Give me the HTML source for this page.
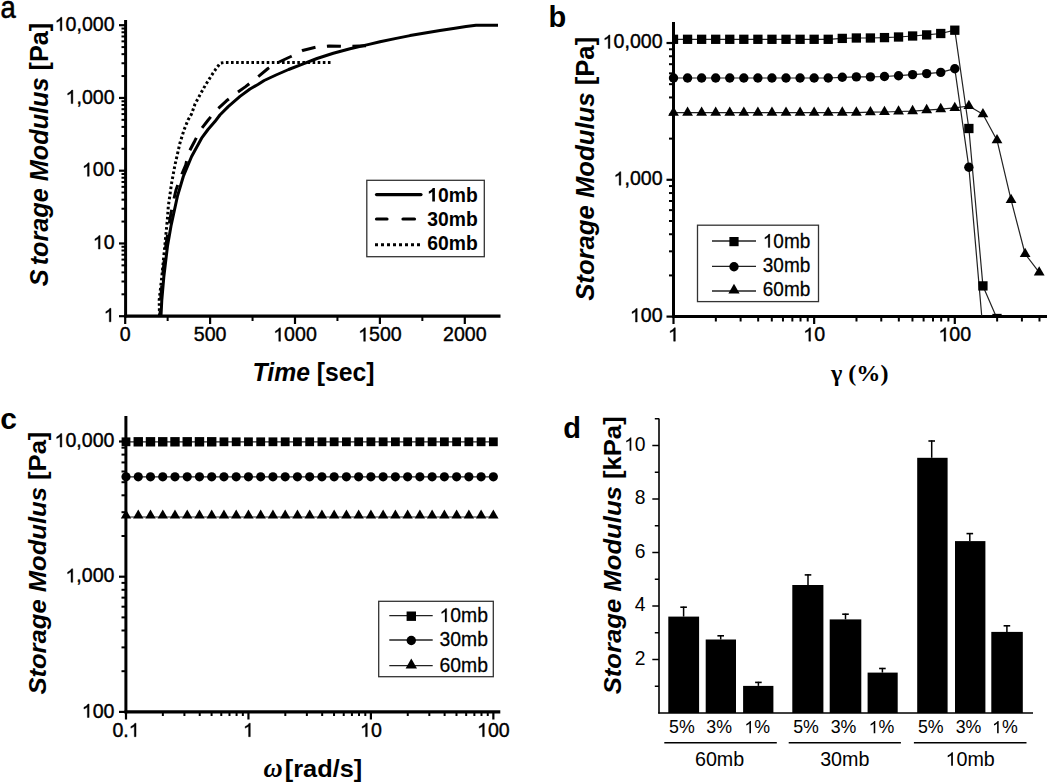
<!DOCTYPE html>
<html><head><meta charset="utf-8"><style>
html,body{margin:0;padding:0;background:#fff;}
body{width:1050px;height:782px;overflow:hidden;}
svg{display:block;}
</style></head><body>
<svg width="1050" height="782" viewBox="0 0 1050 782">
<rect width="1050" height="782" fill="#fff"/>
<text transform="translate(0.6,17.5) scale(0.9,1)" font-family='"Liberation Sans", sans-serif' font-size="30.5" stroke="#000" stroke-width="0.6">a</text>
<line x1="119.00" y1="316.20" x2="125.60" y2="316.20" stroke="#000" stroke-width="2.2" />
<line x1="121.50" y1="294.30" x2="125.60" y2="294.30" stroke="#000" stroke-width="2" />
<line x1="121.50" y1="281.49" x2="125.60" y2="281.49" stroke="#000" stroke-width="2" />
<line x1="121.50" y1="272.40" x2="125.60" y2="272.40" stroke="#000" stroke-width="2" />
<line x1="121.50" y1="265.35" x2="125.60" y2="265.35" stroke="#000" stroke-width="2" />
<line x1="121.50" y1="259.59" x2="125.60" y2="259.59" stroke="#000" stroke-width="2" />
<line x1="121.50" y1="254.72" x2="125.60" y2="254.72" stroke="#000" stroke-width="2" />
<line x1="121.50" y1="250.50" x2="125.60" y2="250.50" stroke="#000" stroke-width="2" />
<line x1="121.50" y1="246.78" x2="125.60" y2="246.78" stroke="#000" stroke-width="2" />
<line x1="119.00" y1="243.45" x2="125.60" y2="243.45" stroke="#000" stroke-width="2.2" />
<line x1="121.50" y1="221.55" x2="125.60" y2="221.55" stroke="#000" stroke-width="2" />
<line x1="121.50" y1="208.74" x2="125.60" y2="208.74" stroke="#000" stroke-width="2" />
<line x1="121.50" y1="199.65" x2="125.60" y2="199.65" stroke="#000" stroke-width="2" />
<line x1="121.50" y1="192.60" x2="125.60" y2="192.60" stroke="#000" stroke-width="2" />
<line x1="121.50" y1="186.84" x2="125.60" y2="186.84" stroke="#000" stroke-width="2" />
<line x1="121.50" y1="181.97" x2="125.60" y2="181.97" stroke="#000" stroke-width="2" />
<line x1="121.50" y1="177.75" x2="125.60" y2="177.75" stroke="#000" stroke-width="2" />
<line x1="121.50" y1="174.03" x2="125.60" y2="174.03" stroke="#000" stroke-width="2" />
<line x1="119.00" y1="170.70" x2="125.60" y2="170.70" stroke="#000" stroke-width="2.2" />
<line x1="121.50" y1="148.80" x2="125.60" y2="148.80" stroke="#000" stroke-width="2" />
<line x1="121.50" y1="135.99" x2="125.60" y2="135.99" stroke="#000" stroke-width="2" />
<line x1="121.50" y1="126.90" x2="125.60" y2="126.90" stroke="#000" stroke-width="2" />
<line x1="121.50" y1="119.85" x2="125.60" y2="119.85" stroke="#000" stroke-width="2" />
<line x1="121.50" y1="114.09" x2="125.60" y2="114.09" stroke="#000" stroke-width="2" />
<line x1="121.50" y1="109.22" x2="125.60" y2="109.22" stroke="#000" stroke-width="2" />
<line x1="121.50" y1="105.00" x2="125.60" y2="105.00" stroke="#000" stroke-width="2" />
<line x1="121.50" y1="101.28" x2="125.60" y2="101.28" stroke="#000" stroke-width="2" />
<line x1="119.00" y1="97.95" x2="125.60" y2="97.95" stroke="#000" stroke-width="2.2" />
<line x1="121.50" y1="76.05" x2="125.60" y2="76.05" stroke="#000" stroke-width="2" />
<line x1="121.50" y1="63.24" x2="125.60" y2="63.24" stroke="#000" stroke-width="2" />
<line x1="121.50" y1="54.15" x2="125.60" y2="54.15" stroke="#000" stroke-width="2" />
<line x1="121.50" y1="47.10" x2="125.60" y2="47.10" stroke="#000" stroke-width="2" />
<line x1="121.50" y1="41.34" x2="125.60" y2="41.34" stroke="#000" stroke-width="2" />
<line x1="121.50" y1="36.47" x2="125.60" y2="36.47" stroke="#000" stroke-width="2" />
<line x1="121.50" y1="32.25" x2="125.60" y2="32.25" stroke="#000" stroke-width="2" />
<line x1="121.50" y1="28.53" x2="125.60" y2="28.53" stroke="#000" stroke-width="2" />
<line x1="119.00" y1="25.20" x2="125.60" y2="25.20" stroke="#000" stroke-width="2.2" />
<g transform="translate(103.70,321.80) scale(1.0000,1)"><path d="M763,0 L583,0 L583,1102 Q518,1043 465,1013 Q412,983 358,953 Q305,923 223,894 L223,1061 Q371,1128 487,1227 Q604,1325 647,1409 L763,1409 Z" transform="translate(0.00,0) scale(0.00957,-0.00957)" fill="#000" stroke="#000" stroke-width="41.8"/></g>
<g transform="translate(92.80,249.05) scale(1.0000,1)"><text x="10.90" y="0" font-family='"Liberation Sans", sans-serif' font-size="19.6" font-weight="normal" stroke="#000" stroke-width="0.4">0</text><path d="M763,0 L583,0 L583,1102 Q518,1043 465,1013 Q412,983 358,953 Q305,923 223,894 L223,1061 Q371,1128 487,1227 Q604,1325 647,1409 L763,1409 Z" transform="translate(0.00,0) scale(0.00957,-0.00957)" fill="#000" stroke="#000" stroke-width="41.8"/></g>
<g transform="translate(81.90,176.30) scale(1.0000,1)"><text x="10.90 21.80" y="0" font-family='"Liberation Sans", sans-serif' font-size="19.6" font-weight="normal" stroke="#000" stroke-width="0.4">00</text><path d="M763,0 L583,0 L583,1102 Q518,1043 465,1013 Q412,983 358,953 Q305,923 223,894 L223,1061 Q371,1128 487,1227 Q604,1325 647,1409 L763,1409 Z" transform="translate(0.00,0) scale(0.00957,-0.00957)" fill="#000" stroke="#000" stroke-width="41.8"/></g>
<g transform="translate(65.55,103.55) scale(1.0000,1)"><text x="10.90 16.35 27.25 38.15" y="0" font-family='"Liberation Sans", sans-serif' font-size="19.6" font-weight="normal" stroke="#000" stroke-width="0.4">,000</text><path d="M763,0 L583,0 L583,1102 Q518,1043 465,1013 Q412,983 358,953 Q305,923 223,894 L223,1061 Q371,1128 487,1227 Q604,1325 647,1409 L763,1409 Z" transform="translate(0.00,0) scale(0.00957,-0.00957)" fill="#000" stroke="#000" stroke-width="41.8"/></g>
<g transform="translate(54.65,30.80) scale(1.0000,1)"><text x="10.90 21.80 27.25 38.15 49.05" y="0" font-family='"Liberation Sans", sans-serif' font-size="19.6" font-weight="normal" stroke="#000" stroke-width="0.4">0,000</text><path d="M763,0 L583,0 L583,1102 Q518,1043 465,1013 Q412,983 358,953 Q305,923 223,894 L223,1061 Q371,1128 487,1227 Q604,1325 647,1409 L763,1409 Z" transform="translate(0.00,0) scale(0.00957,-0.00957)" fill="#000" stroke="#000" stroke-width="41.8"/></g>
<line x1="125.20" y1="316.20" x2="125.20" y2="324.00" stroke="#000" stroke-width="2.2" />
<g transform="translate(119.75,341.30) scale(1.0000,1)"><text x="0.00" y="0" font-family='"Liberation Sans", sans-serif' font-size="19.6" font-weight="normal" stroke="#000" stroke-width="0.4">0</text></g>
<line x1="167.65" y1="316.20" x2="167.65" y2="321.00" stroke="#000" stroke-width="2" />
<line x1="210.10" y1="316.20" x2="210.10" y2="324.00" stroke="#000" stroke-width="2.2" />
<g transform="translate(193.75,341.30) scale(1.0000,1)"><text x="0.00 10.90 21.80" y="0" font-family='"Liberation Sans", sans-serif' font-size="19.6" font-weight="normal" stroke="#000" stroke-width="0.4">500</text></g>
<line x1="252.55" y1="316.20" x2="252.55" y2="321.00" stroke="#000" stroke-width="2" />
<line x1="295.00" y1="316.20" x2="295.00" y2="324.00" stroke="#000" stroke-width="2.2" />
<g transform="translate(273.20,341.30) scale(1.0000,1)"><text x="10.90 21.80 32.70" y="0" font-family='"Liberation Sans", sans-serif' font-size="19.6" font-weight="normal" stroke="#000" stroke-width="0.4">000</text><path d="M763,0 L583,0 L583,1102 Q518,1043 465,1013 Q412,983 358,953 Q305,923 223,894 L223,1061 Q371,1128 487,1227 Q604,1325 647,1409 L763,1409 Z" transform="translate(0.00,0) scale(0.00957,-0.00957)" fill="#000" stroke="#000" stroke-width="41.8"/></g>
<line x1="337.45" y1="316.20" x2="337.45" y2="321.00" stroke="#000" stroke-width="2" />
<line x1="379.90" y1="316.20" x2="379.90" y2="324.00" stroke="#000" stroke-width="2.2" />
<g transform="translate(358.10,341.30) scale(1.0000,1)"><text x="10.90 21.80 32.70" y="0" font-family='"Liberation Sans", sans-serif' font-size="19.6" font-weight="normal" stroke="#000" stroke-width="0.4">500</text><path d="M763,0 L583,0 L583,1102 Q518,1043 465,1013 Q412,983 358,953 Q305,923 223,894 L223,1061 Q371,1128 487,1227 Q604,1325 647,1409 L763,1409 Z" transform="translate(0.00,0) scale(0.00957,-0.00957)" fill="#000" stroke="#000" stroke-width="41.8"/></g>
<line x1="422.35" y1="316.20" x2="422.35" y2="321.00" stroke="#000" stroke-width="2" />
<line x1="464.80" y1="316.20" x2="464.80" y2="324.00" stroke="#000" stroke-width="2.2" />
<g transform="translate(443.00,341.30) scale(1.0000,1)"><text x="0.00 10.90 21.80 32.70" y="0" font-family='"Liberation Sans", sans-serif' font-size="19.6" font-weight="normal" stroke="#000" stroke-width="0.4">2000</text></g>
<line x1="125.60" y1="20.00" x2="125.60" y2="317.50" stroke="#000" stroke-width="3" />
<line x1="124.00" y1="316.20" x2="500.50" y2="316.20" stroke="#000" stroke-width="3.2" />
<text transform="translate(47.5,286.2) rotate(-90)" x="0" y="0" font-family='"Liberation Sans", sans-serif' font-size="25" font-weight="bold" textLength="263.5" lengthAdjust="spacingAndGlyphs"><tspan font-style="italic">S<tspan dx="4">torage Modulus</tspan></tspan> [Pa]</text>
<text x="252.60" y="380.50" font-family='"Liberation Sans", sans-serif' font-size="25" font-weight="bold" font-style="normal" text-anchor="start" textLength="122" lengthAdjust="spacingAndGlyphs"><tspan font-style="italic">Time</tspan> [sec]</text>
<polyline points="161.00,316.00 161.80,300.00 163.80,277.00 167.50,246.00 171.00,226.00 173.60,214.00 177.40,196.40 183.30,176.50 191.60,156.50 201.60,138.20 208.00,129.50 214.90,121.60 219.90,115.00 228.20,106.60 240.00,96.40 250.00,89.00 257.90,84.50 264.20,80.50 276.00,75.00 288.60,69.50 301.90,64.30 317.00,58.50 333.30,53.30 350.00,48.80 369.00,44.40 380.00,41.80 395.00,38.60 410.00,35.60 425.00,33.00 440.00,30.50 455.00,28.20 466.00,26.50 476.00,25.20 498.00,25.20" fill="none" stroke="#000" stroke-width="3" stroke-linejoin="round" />
<polyline points="160.00,316.00 160.60,300.00 162.50,277.00 165.80,246.00 169.50,222.00 172.50,205.00 176.00,190.00 180.80,176.50 185.80,164.80 188.30,153.20 194.90,140.70 199.90,130.70 208.20,120.00 216.50,110.00 226.50,100.80 236.00,93.50 245.60,86.60 256.00,78.50 268.00,68.50 277.30,62.80 290.90,56.50 303.50,50.20 316.60,47.00 329.00,46.00 342.80,46.30 352.00,46.30 366.00,45.80" fill="none" stroke="#000" stroke-width="3" stroke-linejoin="round" stroke-dasharray="14 11.5" stroke-dashoffset="9"/>
<polyline points="159.50,316.00 159.20,300.00 161.80,277.00 164.80,246.00 167.50,218.00 168.30,206.40 171.60,183.10 175.00,164.80 179.90,143.20 184.00,130.00 188.00,120.00 191.50,114.10 195.00,104.10 200.00,94.90 205.30,85.30 211.10,76.10 215.50,69.50 220.30,63.10 225.00,62.40 332.80,62.40" fill="none" stroke="#000" stroke-width="3" stroke-linejoin="round" stroke-dasharray="2.6 2.5"/>
<rect x="366.8" y="180.3" width="117.5" height="76.4" fill="none" stroke="#333" stroke-width="1.3"/>
<line x1="376.50" y1="194.60" x2="421.00" y2="194.60" stroke="#000" stroke-width="3.2" stroke-linecap="round"/>
<line x1="376.50" y1="219.00" x2="387.00" y2="219.00" stroke="#000" stroke-width="3.2" stroke-linecap="round"/>
<line x1="403.00" y1="219.00" x2="414.50" y2="219.00" stroke="#000" stroke-width="3.2" stroke-linecap="round"/>
<line x1="375.00" y1="244.70" x2="421.00" y2="244.70" stroke="#000" stroke-width="3" stroke-dasharray="3 3"/>
<g transform="translate(427.30,201.50) scale(0.9863,1)"><text x="10.90 21.80 39.23" y="0" font-family='"Liberation Sans", sans-serif' font-size="19.6" font-weight="bold">0mb</text><path d="M806,0 L525,0 L525,1018 Q371,879 162,813 L162,1058 Q272,1093 401,1189 Q530,1285 578,1409 L806,1409 Z" transform="translate(0.00,0) scale(0.00957,-0.00957)" fill="#000"/></g>
<g transform="translate(427.30,225.60) scale(0.9863,1)"><text x="0.00 10.90 21.80 39.23" y="0" font-family='"Liberation Sans", sans-serif' font-size="19.6" font-weight="bold">30mb</text></g>
<g transform="translate(427.30,250.40) scale(0.9863,1)"><text x="0.00 10.90 21.80 39.23" y="0" font-family='"Liberation Sans", sans-serif' font-size="19.6" font-weight="bold">60mb</text></g>
<text x="548.50" y="27.30" font-family='"Liberation Sans", sans-serif' font-size="29" font-weight="bold" font-style="normal" text-anchor="start" >b</text>
<line x1="666.50" y1="316.60" x2="673.50" y2="316.60" stroke="#000" stroke-width="2.2" />
<line x1="669.00" y1="275.42" x2="673.50" y2="275.42" stroke="#000" stroke-width="2" />
<line x1="669.00" y1="251.33" x2="673.50" y2="251.33" stroke="#000" stroke-width="2" />
<line x1="669.00" y1="234.24" x2="673.50" y2="234.24" stroke="#000" stroke-width="2" />
<line x1="669.00" y1="220.98" x2="673.50" y2="220.98" stroke="#000" stroke-width="2" />
<line x1="669.00" y1="210.15" x2="673.50" y2="210.15" stroke="#000" stroke-width="2" />
<line x1="669.00" y1="200.99" x2="673.50" y2="200.99" stroke="#000" stroke-width="2" />
<line x1="669.00" y1="193.06" x2="673.50" y2="193.06" stroke="#000" stroke-width="2" />
<line x1="669.00" y1="186.06" x2="673.50" y2="186.06" stroke="#000" stroke-width="2" />
<line x1="666.50" y1="179.80" x2="673.50" y2="179.80" stroke="#000" stroke-width="2.2" />
<line x1="669.00" y1="138.62" x2="673.50" y2="138.62" stroke="#000" stroke-width="2" />
<line x1="669.00" y1="114.53" x2="673.50" y2="114.53" stroke="#000" stroke-width="2" />
<line x1="669.00" y1="97.44" x2="673.50" y2="97.44" stroke="#000" stroke-width="2" />
<line x1="669.00" y1="84.18" x2="673.50" y2="84.18" stroke="#000" stroke-width="2" />
<line x1="669.00" y1="73.35" x2="673.50" y2="73.35" stroke="#000" stroke-width="2" />
<line x1="669.00" y1="64.19" x2="673.50" y2="64.19" stroke="#000" stroke-width="2" />
<line x1="669.00" y1="56.26" x2="673.50" y2="56.26" stroke="#000" stroke-width="2" />
<line x1="669.00" y1="49.26" x2="673.50" y2="49.26" stroke="#000" stroke-width="2" />
<line x1="666.50" y1="43.00" x2="673.50" y2="43.00" stroke="#000" stroke-width="2.2" />
<g transform="translate(629.90,322.00) scale(1.0000,1)"><text x="10.90 21.80" y="0" font-family='"Liberation Sans", sans-serif' font-size="19.6" font-weight="normal" stroke="#000" stroke-width="0.4">00</text><path d="M763,0 L583,0 L583,1102 Q518,1043 465,1013 Q412,983 358,953 Q305,923 223,894 L223,1061 Q371,1128 487,1227 Q604,1325 647,1409 L763,1409 Z" transform="translate(0.00,0) scale(0.00957,-0.00957)" fill="#000" stroke="#000" stroke-width="41.8"/></g>
<g transform="translate(613.55,185.20) scale(1.0000,1)"><text x="10.90 16.35 27.25 38.15" y="0" font-family='"Liberation Sans", sans-serif' font-size="19.6" font-weight="normal" stroke="#000" stroke-width="0.4">,000</text><path d="M763,0 L583,0 L583,1102 Q518,1043 465,1013 Q412,983 358,953 Q305,923 223,894 L223,1061 Q371,1128 487,1227 Q604,1325 647,1409 L763,1409 Z" transform="translate(0.00,0) scale(0.00957,-0.00957)" fill="#000" stroke="#000" stroke-width="41.8"/></g>
<g transform="translate(602.65,48.40) scale(1.0000,1)"><text x="10.90 21.80 27.25 38.15 49.05" y="0" font-family='"Liberation Sans", sans-serif' font-size="19.6" font-weight="normal" stroke="#000" stroke-width="0.4">0,000</text><path d="M763,0 L583,0 L583,1102 Q518,1043 465,1013 Q412,983 358,953 Q305,923 223,894 L223,1061 Q371,1128 487,1227 Q604,1325 647,1409 L763,1409 Z" transform="translate(0.00,0) scale(0.00957,-0.00957)" fill="#000" stroke="#000" stroke-width="41.8"/></g>
<line x1="673.50" y1="316.50" x2="673.50" y2="324.00" stroke="#000" stroke-width="2.2" />
<g transform="translate(668.05,341.20) scale(1.0000,1)"><path d="M763,0 L583,0 L583,1102 Q518,1043 465,1013 Q412,983 358,953 Q305,923 223,894 L223,1061 Q371,1128 487,1227 Q604,1325 647,1409 L763,1409 Z" transform="translate(0.00,0) scale(0.00957,-0.00957)" fill="#000" stroke="#000" stroke-width="41.8"/></g>
<line x1="715.84" y1="316.50" x2="715.84" y2="321.50" stroke="#000" stroke-width="2" />
<line x1="740.61" y1="316.50" x2="740.61" y2="321.50" stroke="#000" stroke-width="2" />
<line x1="758.18" y1="316.50" x2="758.18" y2="321.50" stroke="#000" stroke-width="2" />
<line x1="771.81" y1="316.50" x2="771.81" y2="321.50" stroke="#000" stroke-width="2" />
<line x1="782.95" y1="316.50" x2="782.95" y2="321.50" stroke="#000" stroke-width="2" />
<line x1="792.36" y1="316.50" x2="792.36" y2="321.50" stroke="#000" stroke-width="2" />
<line x1="800.52" y1="316.50" x2="800.52" y2="321.50" stroke="#000" stroke-width="2" />
<line x1="807.71" y1="316.50" x2="807.71" y2="321.50" stroke="#000" stroke-width="2" />
<line x1="814.15" y1="316.50" x2="814.15" y2="324.00" stroke="#000" stroke-width="2.2" />
<g transform="translate(803.25,341.20) scale(1.0000,1)"><text x="10.90" y="0" font-family='"Liberation Sans", sans-serif' font-size="19.6" font-weight="normal" stroke="#000" stroke-width="0.4">0</text><path d="M763,0 L583,0 L583,1102 Q518,1043 465,1013 Q412,983 358,953 Q305,923 223,894 L223,1061 Q371,1128 487,1227 Q604,1325 647,1409 L763,1409 Z" transform="translate(0.00,0) scale(0.00957,-0.00957)" fill="#000" stroke="#000" stroke-width="41.8"/></g>
<line x1="856.49" y1="316.50" x2="856.49" y2="321.50" stroke="#000" stroke-width="2" />
<line x1="881.26" y1="316.50" x2="881.26" y2="321.50" stroke="#000" stroke-width="2" />
<line x1="898.83" y1="316.50" x2="898.83" y2="321.50" stroke="#000" stroke-width="2" />
<line x1="912.46" y1="316.50" x2="912.46" y2="321.50" stroke="#000" stroke-width="2" />
<line x1="923.60" y1="316.50" x2="923.60" y2="321.50" stroke="#000" stroke-width="2" />
<line x1="933.01" y1="316.50" x2="933.01" y2="321.50" stroke="#000" stroke-width="2" />
<line x1="941.17" y1="316.50" x2="941.17" y2="321.50" stroke="#000" stroke-width="2" />
<line x1="948.36" y1="316.50" x2="948.36" y2="321.50" stroke="#000" stroke-width="2" />
<line x1="954.80" y1="316.50" x2="954.80" y2="324.00" stroke="#000" stroke-width="2.2" />
<g transform="translate(938.45,341.20) scale(1.0000,1)"><text x="10.90 21.80" y="0" font-family='"Liberation Sans", sans-serif' font-size="19.6" font-weight="normal" stroke="#000" stroke-width="0.4">00</text><path d="M763,0 L583,0 L583,1102 Q518,1043 465,1013 Q412,983 358,953 Q305,923 223,894 L223,1061 Q371,1128 487,1227 Q604,1325 647,1409 L763,1409 Z" transform="translate(0.00,0) scale(0.00957,-0.00957)" fill="#000" stroke="#000" stroke-width="41.8"/></g>
<line x1="997.14" y1="316.50" x2="997.14" y2="321.50" stroke="#000" stroke-width="2" />
<line x1="1021.91" y1="316.50" x2="1021.91" y2="321.50" stroke="#000" stroke-width="2" />
<line x1="1039.48" y1="316.50" x2="1039.48" y2="321.50" stroke="#000" stroke-width="2" />
<line x1="673.50" y1="22.00" x2="673.50" y2="318.00" stroke="#000" stroke-width="3" />
<line x1="672.00" y1="316.50" x2="1047.00" y2="316.50" stroke="#000" stroke-width="3" />
<text transform="translate(593.8,300.8) rotate(-90)" x="0" y="0" font-family='"Liberation Sans", sans-serif' font-size="25" font-weight="bold" textLength="264" lengthAdjust="spacingAndGlyphs"><tspan font-style="italic">Storage Modulus</tspan> [Pa]</text>
<text x="831.00" y="380.60" font-family='"Liberation Serif", serif' font-size="24" font-weight="bold" font-style="normal" text-anchor="start" textLength="57.5" lengthAdjust="spacingAndGlyphs">γ (%)</text>
<defs><clipPath id="cb"><rect x="673" y="0" width="377" height="316"/></clipPath><clipPath id="cc"><rect x="125" y="400" width="380" height="312"/></clipPath></defs>
<g clip-path="url(#cb)">
<polyline points="673.50,39.30 687.57,39.30 701.63,39.30 715.69,39.30 729.76,39.30 743.83,39.30 757.89,39.30 771.96,39.30 786.02,39.30 800.09,39.30 814.15,39.30 828.22,39.30 842.28,38.40 856.35,38.00 870.41,38.00 884.48,37.60 898.54,37.00 912.61,36.00 926.67,34.90 940.74,33.50 954.80,30.20 968.87,128.50 982.93,285.90 997.00,318.50" fill="none" stroke="#222" stroke-width="1.2" stroke-linejoin="round" />
<polyline points="673.50,78.00 687.57,78.00 701.63,78.00 715.69,78.00 729.76,78.00 743.83,78.00 757.89,78.00 771.96,78.00 786.02,78.00 800.09,78.00 814.15,78.00 828.22,78.00 842.28,77.30 856.35,76.90 870.41,76.90 884.48,76.50 898.54,75.70 912.61,74.60 926.67,73.60 940.74,72.40 954.80,68.70 968.87,167.30 982.93,330.00" fill="none" stroke="#222" stroke-width="1.2" stroke-linejoin="round" />
<polyline points="673.50,112.70 687.57,112.70 701.63,112.70 715.69,112.70 729.76,112.70 743.83,112.70 757.89,112.70 771.96,112.70 786.02,112.70 800.09,112.70 814.15,112.70 828.22,112.70 842.28,112.60 856.35,112.60 870.41,112.20 884.48,112.00 898.54,111.50 912.61,111.10 926.67,110.10 940.74,109.10 954.80,107.90 968.87,106.00 982.93,114.20 997.00,140.20 1011.06,199.90 1025.12,254.00 1039.19,272.40" fill="none" stroke="#222" stroke-width="1.2" stroke-linejoin="round" />
</g>
<g clip-path="url(#cb)">
<rect x="668.85" y="34.65" width="9.3" height="9.3" fill="#000"/>
<rect x="682.92" y="34.65" width="9.3" height="9.3" fill="#000"/>
<rect x="696.98" y="34.65" width="9.3" height="9.3" fill="#000"/>
<rect x="711.04" y="34.65" width="9.3" height="9.3" fill="#000"/>
<rect x="725.11" y="34.65" width="9.3" height="9.3" fill="#000"/>
<rect x="739.18" y="34.65" width="9.3" height="9.3" fill="#000"/>
<rect x="753.24" y="34.65" width="9.3" height="9.3" fill="#000"/>
<rect x="767.31" y="34.65" width="9.3" height="9.3" fill="#000"/>
<rect x="781.37" y="34.65" width="9.3" height="9.3" fill="#000"/>
<rect x="795.44" y="34.65" width="9.3" height="9.3" fill="#000"/>
<rect x="809.50" y="34.65" width="9.3" height="9.3" fill="#000"/>
<rect x="823.57" y="34.65" width="9.3" height="9.3" fill="#000"/>
<rect x="837.63" y="33.75" width="9.3" height="9.3" fill="#000"/>
<rect x="851.70" y="33.35" width="9.3" height="9.3" fill="#000"/>
<rect x="865.76" y="33.35" width="9.3" height="9.3" fill="#000"/>
<rect x="879.83" y="32.95" width="9.3" height="9.3" fill="#000"/>
<rect x="893.89" y="32.35" width="9.3" height="9.3" fill="#000"/>
<rect x="907.96" y="31.35" width="9.3" height="9.3" fill="#000"/>
<rect x="922.02" y="30.25" width="9.3" height="9.3" fill="#000"/>
<rect x="936.09" y="28.85" width="9.3" height="9.3" fill="#000"/>
<rect x="950.15" y="25.55" width="9.3" height="9.3" fill="#000"/>
<rect x="964.22" y="123.85" width="9.3" height="9.3" fill="#000"/>
<rect x="978.28" y="281.25" width="9.3" height="9.3" fill="#000"/>
<rect x="992.35" y="313.85" width="9.3" height="9.3" fill="#000"/>
</g>
<circle cx="673.50" cy="78.00" r="4.7" fill="#000"/>
<circle cx="687.57" cy="78.00" r="4.7" fill="#000"/>
<circle cx="701.63" cy="78.00" r="4.7" fill="#000"/>
<circle cx="715.69" cy="78.00" r="4.7" fill="#000"/>
<circle cx="729.76" cy="78.00" r="4.7" fill="#000"/>
<circle cx="743.83" cy="78.00" r="4.7" fill="#000"/>
<circle cx="757.89" cy="78.00" r="4.7" fill="#000"/>
<circle cx="771.96" cy="78.00" r="4.7" fill="#000"/>
<circle cx="786.02" cy="78.00" r="4.7" fill="#000"/>
<circle cx="800.09" cy="78.00" r="4.7" fill="#000"/>
<circle cx="814.15" cy="78.00" r="4.7" fill="#000"/>
<circle cx="828.22" cy="78.00" r="4.7" fill="#000"/>
<circle cx="842.28" cy="77.30" r="4.7" fill="#000"/>
<circle cx="856.35" cy="76.90" r="4.7" fill="#000"/>
<circle cx="870.41" cy="76.90" r="4.7" fill="#000"/>
<circle cx="884.48" cy="76.50" r="4.7" fill="#000"/>
<circle cx="898.54" cy="75.70" r="4.7" fill="#000"/>
<circle cx="912.61" cy="74.60" r="4.7" fill="#000"/>
<circle cx="926.67" cy="73.60" r="4.7" fill="#000"/>
<circle cx="940.74" cy="72.40" r="4.7" fill="#000"/>
<circle cx="954.80" cy="68.70" r="4.7" fill="#000"/>
<circle cx="968.87" cy="167.30" r="4.7" fill="#000"/>
<polygon points="673.50,106.46 668.10,115.82 678.90,115.82" fill="#000"/>
<polygon points="687.57,106.46 682.17,115.82 692.97,115.82" fill="#000"/>
<polygon points="701.63,106.46 696.23,115.82 707.03,115.82" fill="#000"/>
<polygon points="715.69,106.46 710.29,115.82 721.09,115.82" fill="#000"/>
<polygon points="729.76,106.46 724.36,115.82 735.16,115.82" fill="#000"/>
<polygon points="743.83,106.46 738.43,115.82 749.23,115.82" fill="#000"/>
<polygon points="757.89,106.46 752.49,115.82 763.29,115.82" fill="#000"/>
<polygon points="771.96,106.46 766.56,115.82 777.36,115.82" fill="#000"/>
<polygon points="786.02,106.46 780.62,115.82 791.42,115.82" fill="#000"/>
<polygon points="800.09,106.46 794.69,115.82 805.49,115.82" fill="#000"/>
<polygon points="814.15,106.46 808.75,115.82 819.55,115.82" fill="#000"/>
<polygon points="828.22,106.46 822.82,115.82 833.62,115.82" fill="#000"/>
<polygon points="842.28,106.36 836.88,115.72 847.68,115.72" fill="#000"/>
<polygon points="856.35,106.36 850.95,115.72 861.75,115.72" fill="#000"/>
<polygon points="870.41,105.96 865.01,115.32 875.81,115.32" fill="#000"/>
<polygon points="884.48,105.76 879.08,115.12 889.88,115.12" fill="#000"/>
<polygon points="898.54,105.26 893.14,114.62 903.94,114.62" fill="#000"/>
<polygon points="912.61,104.86 907.21,114.22 918.00,114.22" fill="#000"/>
<polygon points="926.67,103.86 921.27,113.22 932.07,113.22" fill="#000"/>
<polygon points="940.74,102.86 935.34,112.22 946.13,112.22" fill="#000"/>
<polygon points="954.80,101.66 949.40,111.02 960.20,111.02" fill="#000"/>
<polygon points="968.87,99.76 963.47,109.12 974.26,109.12" fill="#000"/>
<polygon points="982.93,107.96 977.53,117.32 988.33,117.32" fill="#000"/>
<polygon points="997.00,133.96 991.60,143.32 1002.39,143.32" fill="#000"/>
<polygon points="1011.06,193.66 1005.66,203.02 1016.46,203.02" fill="#000"/>
<polygon points="1025.12,247.76 1019.73,257.12 1030.53,257.12" fill="#000"/>
<polygon points="1039.19,266.16 1033.79,275.52 1044.59,275.52" fill="#000"/>
<rect x="697.5" y="225.2" width="121" height="76.4" fill="#fff" stroke="#333" stroke-width="1.3"/>
<line x1="712.00" y1="241.00" x2="756.00" y2="241.00" stroke="#222" stroke-width="1.3" />
<rect x="729.40" y="237.00" width="9.2" height="9.2" fill="#000"/>
<g transform="translate(762.80,247.50) scale(0.9738,1)"><text x="10.84 21.69 37.93" y="0" font-family='"Liberation Sans", sans-serif' font-size="19.5" font-weight="normal" stroke="#000" stroke-width="0.25">0mb</text><path d="M763,0 L583,0 L583,1102 Q518,1043 465,1013 Q412,983 358,953 Q305,923 223,894 L223,1061 Q371,1128 487,1227 Q604,1325 647,1409 L763,1409 Z" transform="translate(0.00,0) scale(0.00952,-0.00952)" fill="#000" stroke="#000" stroke-width="26.3"/></g>
<line x1="712.00" y1="266.30" x2="756.00" y2="266.30" stroke="#222" stroke-width="1.3" />
<circle cx="734.00" cy="266.70" r="4.7" fill="#000"/>
<g transform="translate(762.80,271.70) scale(0.9738,1)"><text x="0.00 10.84 21.69 37.93" y="0" font-family='"Liberation Sans", sans-serif' font-size="19.5" font-weight="normal" stroke="#000" stroke-width="0.25">30mb</text></g>
<line x1="712.00" y1="291.00" x2="756.00" y2="291.00" stroke="#222" stroke-width="1.3" />
<polygon points="734.00,283.73 728.40,293.43 739.60,293.43" fill="#000"/>
<g transform="translate(762.80,296.30) scale(0.9738,1)"><text x="0.00 10.84 21.69 37.93" y="0" font-family='"Liberation Sans", sans-serif' font-size="19.5" font-weight="normal" stroke="#000" stroke-width="0.25">60mb</text></g>
<text x="0.30" y="428.90" font-family='"Liberation Sans", sans-serif' font-size="30" font-weight="bold" font-style="normal" text-anchor="start" >c</text>
<line x1="119.00" y1="711.90" x2="125.90" y2="711.90" stroke="#000" stroke-width="2.2" />
<line x1="121.50" y1="671.20" x2="125.90" y2="671.20" stroke="#000" stroke-width="2" />
<line x1="121.50" y1="647.39" x2="125.90" y2="647.39" stroke="#000" stroke-width="2" />
<line x1="121.50" y1="630.50" x2="125.90" y2="630.50" stroke="#000" stroke-width="2" />
<line x1="121.50" y1="617.40" x2="125.90" y2="617.40" stroke="#000" stroke-width="2" />
<line x1="121.50" y1="606.69" x2="125.90" y2="606.69" stroke="#000" stroke-width="2" />
<line x1="121.50" y1="597.64" x2="125.90" y2="597.64" stroke="#000" stroke-width="2" />
<line x1="121.50" y1="589.80" x2="125.90" y2="589.80" stroke="#000" stroke-width="2" />
<line x1="121.50" y1="582.89" x2="125.90" y2="582.89" stroke="#000" stroke-width="2" />
<line x1="119.00" y1="576.70" x2="125.90" y2="576.70" stroke="#000" stroke-width="2.2" />
<line x1="121.50" y1="536.00" x2="125.90" y2="536.00" stroke="#000" stroke-width="2" />
<line x1="121.50" y1="512.19" x2="125.90" y2="512.19" stroke="#000" stroke-width="2" />
<line x1="121.50" y1="495.30" x2="125.90" y2="495.30" stroke="#000" stroke-width="2" />
<line x1="121.50" y1="482.20" x2="125.90" y2="482.20" stroke="#000" stroke-width="2" />
<line x1="121.50" y1="471.49" x2="125.90" y2="471.49" stroke="#000" stroke-width="2" />
<line x1="121.50" y1="462.44" x2="125.90" y2="462.44" stroke="#000" stroke-width="2" />
<line x1="121.50" y1="454.60" x2="125.90" y2="454.60" stroke="#000" stroke-width="2" />
<line x1="121.50" y1="447.69" x2="125.90" y2="447.69" stroke="#000" stroke-width="2" />
<line x1="119.00" y1="441.50" x2="125.90" y2="441.50" stroke="#000" stroke-width="2.2" />
<g transform="translate(81.80,717.50) scale(1.0000,1)"><text x="10.90 21.80" y="0" font-family='"Liberation Sans", sans-serif' font-size="19.6" font-weight="normal" stroke="#000" stroke-width="0.4">00</text><path d="M763,0 L583,0 L583,1102 Q518,1043 465,1013 Q412,983 358,953 Q305,923 223,894 L223,1061 Q371,1128 487,1227 Q604,1325 647,1409 L763,1409 Z" transform="translate(0.00,0) scale(0.00957,-0.00957)" fill="#000" stroke="#000" stroke-width="41.8"/></g>
<g transform="translate(65.45,582.30) scale(1.0000,1)"><text x="10.90 16.35 27.25 38.15" y="0" font-family='"Liberation Sans", sans-serif' font-size="19.6" font-weight="normal" stroke="#000" stroke-width="0.4">,000</text><path d="M763,0 L583,0 L583,1102 Q518,1043 465,1013 Q412,983 358,953 Q305,923 223,894 L223,1061 Q371,1128 487,1227 Q604,1325 647,1409 L763,1409 Z" transform="translate(0.00,0) scale(0.00957,-0.00957)" fill="#000" stroke="#000" stroke-width="41.8"/></g>
<g transform="translate(54.55,447.10) scale(1.0000,1)"><text x="10.90 21.80 27.25 38.15 49.05" y="0" font-family='"Liberation Sans", sans-serif' font-size="19.6" font-weight="normal" stroke="#000" stroke-width="0.4">0,000</text><path d="M763,0 L583,0 L583,1102 Q518,1043 465,1013 Q412,983 358,953 Q305,923 223,894 L223,1061 Q371,1128 487,1227 Q604,1325 647,1409 L763,1409 Z" transform="translate(0.00,0) scale(0.00957,-0.00957)" fill="#000" stroke="#000" stroke-width="41.8"/></g>
<line x1="126.00" y1="711.90" x2="126.00" y2="719.50" stroke="#000" stroke-width="2.2" />
<g transform="translate(112.38,736.70) scale(1.0000,1)"><text x="0.00 10.90" y="0" font-family='"Liberation Sans", sans-serif' font-size="19.6" font-weight="normal" stroke="#000" stroke-width="0.4">0.</text><path d="M763,0 L583,0 L583,1102 Q518,1043 465,1013 Q412,983 358,953 Q305,923 223,894 L223,1061 Q371,1128 487,1227 Q604,1325 647,1409 L763,1409 Z" transform="translate(16.35,0) scale(0.00957,-0.00957)" fill="#000" stroke="#000" stroke-width="41.8"/></g>
<line x1="162.86" y1="711.90" x2="162.86" y2="716.00" stroke="#000" stroke-width="2" />
<line x1="184.42" y1="711.90" x2="184.42" y2="716.00" stroke="#000" stroke-width="2" />
<line x1="199.72" y1="711.90" x2="199.72" y2="716.00" stroke="#000" stroke-width="2" />
<line x1="211.59" y1="711.90" x2="211.59" y2="716.00" stroke="#000" stroke-width="2" />
<line x1="221.28" y1="711.90" x2="221.28" y2="716.00" stroke="#000" stroke-width="2" />
<line x1="229.48" y1="711.90" x2="229.48" y2="716.00" stroke="#000" stroke-width="2" />
<line x1="236.58" y1="711.90" x2="236.58" y2="716.00" stroke="#000" stroke-width="2" />
<line x1="242.85" y1="711.90" x2="242.85" y2="716.00" stroke="#000" stroke-width="2" />
<line x1="248.45" y1="711.90" x2="248.45" y2="719.50" stroke="#000" stroke-width="2.2" />
<g transform="translate(243.00,736.70) scale(1.0000,1)"><path d="M763,0 L583,0 L583,1102 Q518,1043 465,1013 Q412,983 358,953 Q305,923 223,894 L223,1061 Q371,1128 487,1227 Q604,1325 647,1409 L763,1409 Z" transform="translate(0.00,0) scale(0.00957,-0.00957)" fill="#000" stroke="#000" stroke-width="41.8"/></g>
<line x1="285.31" y1="711.90" x2="285.31" y2="716.00" stroke="#000" stroke-width="2" />
<line x1="306.87" y1="711.90" x2="306.87" y2="716.00" stroke="#000" stroke-width="2" />
<line x1="322.17" y1="711.90" x2="322.17" y2="716.00" stroke="#000" stroke-width="2" />
<line x1="334.04" y1="711.90" x2="334.04" y2="716.00" stroke="#000" stroke-width="2" />
<line x1="343.73" y1="711.90" x2="343.73" y2="716.00" stroke="#000" stroke-width="2" />
<line x1="351.93" y1="711.90" x2="351.93" y2="716.00" stroke="#000" stroke-width="2" />
<line x1="359.03" y1="711.90" x2="359.03" y2="716.00" stroke="#000" stroke-width="2" />
<line x1="365.30" y1="711.90" x2="365.30" y2="716.00" stroke="#000" stroke-width="2" />
<line x1="370.90" y1="711.90" x2="370.90" y2="719.50" stroke="#000" stroke-width="2.2" />
<g transform="translate(360.00,736.70) scale(1.0000,1)"><text x="10.90" y="0" font-family='"Liberation Sans", sans-serif' font-size="19.6" font-weight="normal" stroke="#000" stroke-width="0.4">0</text><path d="M763,0 L583,0 L583,1102 Q518,1043 465,1013 Q412,983 358,953 Q305,923 223,894 L223,1061 Q371,1128 487,1227 Q604,1325 647,1409 L763,1409 Z" transform="translate(0.00,0) scale(0.00957,-0.00957)" fill="#000" stroke="#000" stroke-width="41.8"/></g>
<line x1="407.76" y1="711.90" x2="407.76" y2="716.00" stroke="#000" stroke-width="2" />
<line x1="429.32" y1="711.90" x2="429.32" y2="716.00" stroke="#000" stroke-width="2" />
<line x1="444.62" y1="711.90" x2="444.62" y2="716.00" stroke="#000" stroke-width="2" />
<line x1="456.49" y1="711.90" x2="456.49" y2="716.00" stroke="#000" stroke-width="2" />
<line x1="466.18" y1="711.90" x2="466.18" y2="716.00" stroke="#000" stroke-width="2" />
<line x1="474.38" y1="711.90" x2="474.38" y2="716.00" stroke="#000" stroke-width="2" />
<line x1="481.48" y1="711.90" x2="481.48" y2="716.00" stroke="#000" stroke-width="2" />
<line x1="487.75" y1="711.90" x2="487.75" y2="716.00" stroke="#000" stroke-width="2" />
<line x1="493.35" y1="711.90" x2="493.35" y2="719.50" stroke="#000" stroke-width="2.2" />
<g transform="translate(477.00,736.70) scale(1.0000,1)"><text x="10.90 21.80" y="0" font-family='"Liberation Sans", sans-serif' font-size="19.6" font-weight="normal" stroke="#000" stroke-width="0.4">00</text><path d="M763,0 L583,0 L583,1102 Q518,1043 465,1013 Q412,983 358,953 Q305,923 223,894 L223,1061 Q371,1128 487,1227 Q604,1325 647,1409 L763,1409 Z" transform="translate(0.00,0) scale(0.00957,-0.00957)" fill="#000" stroke="#000" stroke-width="41.8"/></g>
<line x1="125.90" y1="416.00" x2="125.90" y2="713.30" stroke="#000" stroke-width="3" />
<line x1="124.50" y1="711.90" x2="500.30" y2="711.90" stroke="#000" stroke-width="3.2" />
<text transform="translate(45.5,694.6) rotate(-90)" x="0" y="0" font-family='"Liberation Sans", sans-serif' font-size="24" font-weight="bold" textLength="263" lengthAdjust="spacingAndGlyphs"><tspan font-style="italic">Storage Modulus</tspan> [Pa]</text>
<text x="263.50" y="776.50" font-family='"Liberation Serif", serif' font-size="26.5" font-weight="bold" font-style="italic" text-anchor="start" >ω</text>
<text x="284.80" y="776.50" font-family='"Liberation Sans", sans-serif' font-size="24" font-weight="bold" font-style="normal" text-anchor="start" textLength="77.5" lengthAdjust="spacingAndGlyphs">[rad/s]</text>
<polyline points="126.00,441.80 138.25,441.80 150.49,441.80 162.74,441.80 174.98,441.80 187.22,441.80 199.47,441.80 211.71,441.80 223.96,441.80 236.20,441.80 248.45,441.80 260.69,441.80 272.94,441.80 285.19,441.80 297.43,441.80 309.67,441.80 321.92,441.80 334.16,441.80 346.41,441.80 358.65,441.80 370.90,441.80 383.14,441.80 395.39,441.80 407.63,441.80 419.88,441.80 432.12,441.80 444.37,441.80 456.61,441.80 468.86,441.80 481.10,441.80 493.35,441.80" fill="none" stroke="#222" stroke-width="1.2" stroke-linejoin="round" />
<polyline points="126.00,476.80 138.25,476.80 150.49,476.80 162.74,476.80 174.98,476.80 187.22,476.80 199.47,476.80 211.71,476.80 223.96,476.80 236.20,476.80 248.45,476.80 260.69,476.80 272.94,476.80 285.19,476.80 297.43,476.80 309.67,476.80 321.92,476.80 334.16,476.80 346.41,476.80 358.65,476.80 370.90,476.80 383.14,476.80 395.39,476.80 407.63,476.80 419.88,476.80 432.12,476.80 444.37,476.80 456.61,476.80 468.86,476.80 481.10,476.80 493.35,476.80" fill="none" stroke="#222" stroke-width="1.2" stroke-linejoin="round" />
<polyline points="126.00,517.00 138.25,517.00 150.49,517.00 162.74,517.00 174.98,517.00 187.22,517.00 199.47,517.00 211.71,517.00 223.96,517.00 236.20,517.00 248.45,517.00 260.69,517.00 272.94,517.00 285.19,517.00 297.43,517.00 309.67,517.00 321.92,517.00 334.16,517.00 346.41,517.00 358.65,517.00 370.90,517.00 383.14,517.00 395.39,517.00 407.63,517.00 419.88,517.00 432.12,517.00 444.37,517.00 456.61,517.00 468.86,517.00 481.10,517.00 493.35,517.00" fill="none" stroke="#222" stroke-width="1.2" stroke-linejoin="round" />
<rect x="121.60" y="437.40" width="8.8" height="8.8" fill="#000"/>
<circle cx="126.00" cy="476.80" r="4.6" fill="#000"/>
<polygon points="126.00,509.50 120.80,518.50 131.20,518.50" fill="#000"/>
<rect x="133.55" y="437.10" width="9.4" height="9.4" fill="#000"/>
<circle cx="138.25" cy="476.80" r="4.6" fill="#000"/>
<polygon points="138.25,509.50 133.05,518.50 143.44,518.50" fill="#000"/>
<rect x="145.79" y="437.10" width="9.4" height="9.4" fill="#000"/>
<circle cx="150.49" cy="476.80" r="4.6" fill="#000"/>
<polygon points="150.49,509.50 145.29,518.50 155.69,518.50" fill="#000"/>
<rect x="158.04" y="437.10" width="9.4" height="9.4" fill="#000"/>
<circle cx="162.74" cy="476.80" r="4.6" fill="#000"/>
<polygon points="162.74,509.50 157.54,518.50 167.94,518.50" fill="#000"/>
<rect x="170.28" y="437.10" width="9.4" height="9.4" fill="#000"/>
<circle cx="174.98" cy="476.80" r="4.6" fill="#000"/>
<polygon points="174.98,509.50 169.78,518.50 180.18,518.50" fill="#000"/>
<rect x="182.53" y="437.10" width="9.4" height="9.4" fill="#000"/>
<circle cx="187.22" cy="476.80" r="4.6" fill="#000"/>
<polygon points="187.22,509.50 182.03,518.50 192.42,518.50" fill="#000"/>
<rect x="194.77" y="437.10" width="9.4" height="9.4" fill="#000"/>
<circle cx="199.47" cy="476.80" r="4.6" fill="#000"/>
<polygon points="199.47,509.50 194.27,518.50 204.67,518.50" fill="#000"/>
<rect x="207.01" y="437.10" width="9.4" height="9.4" fill="#000"/>
<circle cx="211.71" cy="476.80" r="4.6" fill="#000"/>
<polygon points="211.71,509.50 206.51,518.50 216.91,518.50" fill="#000"/>
<rect x="219.56" y="437.40" width="8.8" height="8.8" fill="#000"/>
<circle cx="223.96" cy="476.80" r="4.6" fill="#000"/>
<polygon points="223.96,509.50 218.76,518.50 229.16,518.50" fill="#000"/>
<rect x="231.80" y="437.40" width="8.8" height="8.8" fill="#000"/>
<circle cx="236.20" cy="476.80" r="4.6" fill="#000"/>
<polygon points="236.20,509.50 231.00,518.50 241.40,518.50" fill="#000"/>
<rect x="244.05" y="437.40" width="8.8" height="8.8" fill="#000"/>
<circle cx="248.45" cy="476.80" r="4.6" fill="#000"/>
<polygon points="248.45,509.50 243.25,518.50 253.65,518.50" fill="#000"/>
<rect x="256.30" y="437.40" width="8.8" height="8.8" fill="#000"/>
<circle cx="260.69" cy="476.80" r="4.6" fill="#000"/>
<polygon points="260.69,509.50 255.50,518.50 265.89,518.50" fill="#000"/>
<rect x="268.54" y="437.40" width="8.8" height="8.8" fill="#000"/>
<circle cx="272.94" cy="476.80" r="4.6" fill="#000"/>
<polygon points="272.94,509.50 267.74,518.50 278.14,518.50" fill="#000"/>
<rect x="280.79" y="437.40" width="8.8" height="8.8" fill="#000"/>
<circle cx="285.19" cy="476.80" r="4.6" fill="#000"/>
<polygon points="285.19,509.50 279.99,518.50 290.38,518.50" fill="#000"/>
<rect x="293.03" y="437.40" width="8.8" height="8.8" fill="#000"/>
<circle cx="297.43" cy="476.80" r="4.6" fill="#000"/>
<polygon points="297.43,509.50 292.23,518.50 302.63,518.50" fill="#000"/>
<rect x="305.27" y="437.40" width="8.8" height="8.8" fill="#000"/>
<circle cx="309.67" cy="476.80" r="4.6" fill="#000"/>
<polygon points="309.67,509.50 304.47,518.50 314.87,518.50" fill="#000"/>
<rect x="317.52" y="437.40" width="8.8" height="8.8" fill="#000"/>
<circle cx="321.92" cy="476.80" r="4.6" fill="#000"/>
<polygon points="321.92,509.50 316.72,518.50 327.12,518.50" fill="#000"/>
<rect x="329.76" y="437.40" width="8.8" height="8.8" fill="#000"/>
<circle cx="334.16" cy="476.80" r="4.6" fill="#000"/>
<polygon points="334.16,509.50 328.96,518.50 339.36,518.50" fill="#000"/>
<rect x="342.01" y="437.40" width="8.8" height="8.8" fill="#000"/>
<circle cx="346.41" cy="476.80" r="4.6" fill="#000"/>
<polygon points="346.41,509.50 341.21,518.50 351.61,518.50" fill="#000"/>
<rect x="354.25" y="437.40" width="8.8" height="8.8" fill="#000"/>
<circle cx="358.65" cy="476.80" r="4.6" fill="#000"/>
<polygon points="358.65,509.50 353.45,518.50 363.85,518.50" fill="#000"/>
<rect x="366.50" y="437.40" width="8.8" height="8.8" fill="#000"/>
<circle cx="370.90" cy="476.80" r="4.6" fill="#000"/>
<polygon points="370.90,509.50 365.70,518.50 376.10,518.50" fill="#000"/>
<rect x="378.75" y="437.40" width="8.8" height="8.8" fill="#000"/>
<circle cx="383.14" cy="476.80" r="4.6" fill="#000"/>
<polygon points="383.14,509.50 377.94,518.50 388.34,518.50" fill="#000"/>
<rect x="390.99" y="437.40" width="8.8" height="8.8" fill="#000"/>
<circle cx="395.39" cy="476.80" r="4.6" fill="#000"/>
<polygon points="395.39,509.50 390.19,518.50 400.59,518.50" fill="#000"/>
<rect x="403.24" y="437.40" width="8.8" height="8.8" fill="#000"/>
<circle cx="407.63" cy="476.80" r="4.6" fill="#000"/>
<polygon points="407.63,509.50 402.44,518.50 412.83,518.50" fill="#000"/>
<rect x="415.48" y="437.40" width="8.8" height="8.8" fill="#000"/>
<circle cx="419.88" cy="476.80" r="4.6" fill="#000"/>
<polygon points="419.88,509.50 414.68,518.50 425.08,518.50" fill="#000"/>
<rect x="427.73" y="437.40" width="8.8" height="8.8" fill="#000"/>
<circle cx="432.12" cy="476.80" r="4.6" fill="#000"/>
<polygon points="432.12,509.50 426.93,518.50 437.32,518.50" fill="#000"/>
<rect x="439.97" y="437.40" width="8.8" height="8.8" fill="#000"/>
<circle cx="444.37" cy="476.80" r="4.6" fill="#000"/>
<polygon points="444.37,509.50 439.17,518.50 449.57,518.50" fill="#000"/>
<rect x="452.21" y="437.40" width="8.8" height="8.8" fill="#000"/>
<circle cx="456.61" cy="476.80" r="4.6" fill="#000"/>
<polygon points="456.61,509.50 451.41,518.50 461.81,518.50" fill="#000"/>
<rect x="464.46" y="437.40" width="8.8" height="8.8" fill="#000"/>
<circle cx="468.86" cy="476.80" r="4.6" fill="#000"/>
<polygon points="468.86,509.50 463.66,518.50 474.06,518.50" fill="#000"/>
<rect x="476.70" y="437.40" width="8.8" height="8.8" fill="#000"/>
<circle cx="481.10" cy="476.80" r="4.6" fill="#000"/>
<polygon points="481.10,509.50 475.90,518.50 486.30,518.50" fill="#000"/>
<rect x="488.95" y="437.40" width="8.8" height="8.8" fill="#000"/>
<circle cx="493.35" cy="476.80" r="4.6" fill="#000"/>
<polygon points="493.35,509.50 488.15,518.50 498.55,518.50" fill="#000"/>
<rect x="378.7" y="601.3" width="114.6" height="75.4" fill="#fff" stroke="#333" stroke-width="1.3"/>
<line x1="389.30" y1="615.60" x2="432.70" y2="615.60" stroke="#222" stroke-width="1.3" />
<rect x="406.60" y="611.50" width="9.4" height="9.4" fill="#000"/>
<g transform="translate(439.50,622.00) scale(0.9943,1)"><text x="10.84 21.69 37.93" y="0" font-family='"Liberation Sans", sans-serif' font-size="19.5" font-weight="normal" stroke="#000" stroke-width="0.25">0mb</text><path d="M763,0 L583,0 L583,1102 Q518,1043 465,1013 Q412,983 358,953 Q305,923 223,894 L223,1061 Q371,1128 487,1227 Q604,1325 647,1409 L763,1409 Z" transform="translate(0.00,0) scale(0.00952,-0.00952)" fill="#000" stroke="#000" stroke-width="26.3"/></g>
<line x1="389.30" y1="640.00" x2="432.70" y2="640.00" stroke="#222" stroke-width="1.3" />
<circle cx="411.30" cy="640.50" r="4.7" fill="#000"/>
<g transform="translate(439.50,646.30) scale(0.9943,1)"><text x="0.00 10.84 21.69 37.93" y="0" font-family='"Liberation Sans", sans-serif' font-size="19.5" font-weight="normal" stroke="#000" stroke-width="0.25">30mb</text></g>
<line x1="389.30" y1="665.70" x2="432.70" y2="665.70" stroke="#222" stroke-width="1.3" />
<polygon points="411.30,658.52 405.60,668.39 417.00,668.39" fill="#000"/>
<g transform="translate(439.50,671.50) scale(0.9943,1)"><text x="0.00 10.84 21.69 37.93" y="0" font-family='"Liberation Sans", sans-serif' font-size="19.5" font-weight="normal" stroke="#000" stroke-width="0.25">60mb</text></g>
<text x="563.30" y="438.00" font-family='"Liberation Sans", sans-serif' font-size="29" font-weight="bold" font-style="normal" text-anchor="start" >d</text>
<line x1="659.00" y1="418.50" x2="659.00" y2="713.50" stroke="#000" stroke-width="1.6" />
<line x1="658.20" y1="713.00" x2="1033.00" y2="713.00" stroke="#000" stroke-width="1.6" />
<line x1="654.80" y1="686.25" x2="659.00" y2="686.25" stroke="#000" stroke-width="1.5" />
<line x1="652.30" y1="659.50" x2="659.00" y2="659.50" stroke="#000" stroke-width="1.5" />
<g transform="translate(634.87,664.80) scale(1.0000,1)"><text x="0.00" y="0" font-family='"Liberation Sans", sans-serif' font-size="19.3" font-weight="normal">2</text></g>
<line x1="654.80" y1="632.75" x2="659.00" y2="632.75" stroke="#000" stroke-width="1.5" />
<line x1="652.30" y1="606.00" x2="659.00" y2="606.00" stroke="#000" stroke-width="1.5" />
<g transform="translate(634.87,611.30) scale(1.0000,1)"><text x="0.00" y="0" font-family='"Liberation Sans", sans-serif' font-size="19.3" font-weight="normal">4</text></g>
<line x1="654.80" y1="579.25" x2="659.00" y2="579.25" stroke="#000" stroke-width="1.5" />
<line x1="652.30" y1="552.50" x2="659.00" y2="552.50" stroke="#000" stroke-width="1.5" />
<g transform="translate(634.87,557.80) scale(1.0000,1)"><text x="0.00" y="0" font-family='"Liberation Sans", sans-serif' font-size="19.3" font-weight="normal">6</text></g>
<line x1="654.80" y1="525.75" x2="659.00" y2="525.75" stroke="#000" stroke-width="1.5" />
<line x1="652.30" y1="499.00" x2="659.00" y2="499.00" stroke="#000" stroke-width="1.5" />
<g transform="translate(634.87,504.30) scale(1.0000,1)"><text x="0.00" y="0" font-family='"Liberation Sans", sans-serif' font-size="19.3" font-weight="normal">8</text></g>
<line x1="654.80" y1="472.25" x2="659.00" y2="472.25" stroke="#000" stroke-width="1.5" />
<line x1="652.30" y1="445.50" x2="659.00" y2="445.50" stroke="#000" stroke-width="1.5" />
<g transform="translate(624.13,450.80) scale(1.0000,1)"><text x="10.73" y="0" font-family='"Liberation Sans", sans-serif' font-size="19.3" font-weight="normal">0</text><path d="M763,0 L583,0 L583,1102 Q518,1043 465,1013 Q412,983 358,953 Q305,923 223,894 L223,1061 Q371,1128 487,1227 Q604,1325 647,1409 L763,1409 Z" transform="translate(0.00,0) scale(0.00942,-0.00942)" fill="#000"/></g>
<line x1="654.80" y1="418.75" x2="659.00" y2="418.75" stroke="#000" stroke-width="1.5" />
<text transform="translate(620.5,694.3) rotate(-90)" x="0" y="0" font-family='"Liberation Sans", sans-serif' font-size="24" font-weight="bold" textLength="278" lengthAdjust="spacingAndGlyphs"><tspan font-style="italic">Storage Modulus</tspan> [kPa]</text>
<rect x="668.3" y="616.6" width="30.8" height="96.4" fill="#000"/>
<line x1="683.60" y1="616.60" x2="683.60" y2="606.60" stroke="#000" stroke-width="1.5" />
<line x1="680.30" y1="607.20" x2="686.90" y2="607.20" stroke="#000" stroke-width="1.6" />
<rect x="705.7" y="639.5" width="30.3" height="73.5" fill="#000"/>
<line x1="720.70" y1="639.50" x2="720.70" y2="635.20" stroke="#000" stroke-width="1.5" />
<line x1="717.40" y1="635.80" x2="724.00" y2="635.80" stroke="#000" stroke-width="1.6" />
<rect x="743.1" y="685.9" width="30.3" height="27.1" fill="#000"/>
<line x1="758.40" y1="685.90" x2="758.40" y2="681.80" stroke="#000" stroke-width="1.5" />
<line x1="755.10" y1="682.40" x2="761.70" y2="682.40" stroke="#000" stroke-width="1.6" />
<rect x="792.3" y="585.0" width="31.1" height="128.0" fill="#000"/>
<line x1="808.00" y1="585.00" x2="808.00" y2="574.30" stroke="#000" stroke-width="1.5" />
<line x1="804.70" y1="574.90" x2="811.30" y2="574.90" stroke="#000" stroke-width="1.6" />
<rect x="829.7" y="619.4" width="31.6" height="93.6" fill="#000"/>
<line x1="845.50" y1="619.40" x2="845.50" y2="613.60" stroke="#000" stroke-width="1.5" />
<line x1="842.20" y1="614.20" x2="848.80" y2="614.20" stroke="#000" stroke-width="1.6" />
<rect x="867.6" y="672.6" width="30.1" height="40.4" fill="#000"/>
<line x1="882.40" y1="672.60" x2="882.40" y2="667.90" stroke="#000" stroke-width="1.5" />
<line x1="879.10" y1="668.50" x2="885.70" y2="668.50" stroke="#000" stroke-width="1.6" />
<rect x="917.2" y="457.8" width="30.4" height="255.2" fill="#000"/>
<line x1="931.70" y1="457.80" x2="931.70" y2="440.40" stroke="#000" stroke-width="1.5" />
<line x1="928.40" y1="441.00" x2="935.00" y2="441.00" stroke="#000" stroke-width="1.6" />
<rect x="955.0" y="541.1" width="30.4" height="171.9" fill="#000"/>
<line x1="969.80" y1="541.10" x2="969.80" y2="533.00" stroke="#000" stroke-width="1.5" />
<line x1="966.50" y1="533.60" x2="973.10" y2="533.60" stroke="#000" stroke-width="1.6" />
<rect x="991.3" y="631.9" width="31.5" height="81.1" fill="#000"/>
<line x1="1006.90" y1="631.90" x2="1006.90" y2="625.20" stroke="#000" stroke-width="1.5" />
<line x1="1003.60" y1="625.80" x2="1010.20" y2="625.80" stroke="#000" stroke-width="1.6" />
<g transform="translate(669.04,733.20) scale(1.0000,1)"><text x="0.00 9.90" y="0" font-family='"Liberation Sans", sans-serif' font-size="17.8" font-weight="normal">5%</text></g>
<g transform="translate(706.24,733.20) scale(1.0000,1)"><text x="0.00 9.90" y="0" font-family='"Liberation Sans", sans-serif' font-size="17.8" font-weight="normal">3%</text></g>
<g transform="translate(744.34,733.20) scale(1.0000,1)"><text x="9.90" y="0" font-family='"Liberation Sans", sans-serif' font-size="17.8" font-weight="normal">%</text><path d="M763,0 L583,0 L583,1102 Q518,1043 465,1013 Q412,983 358,953 Q305,923 223,894 L223,1061 Q371,1128 487,1227 Q604,1325 647,1409 L763,1409 Z" transform="translate(0.00,0) scale(0.00869,-0.00869)" fill="#000"/></g>
<g transform="translate(793.14,733.20) scale(1.0000,1)"><text x="0.00 9.90" y="0" font-family='"Liberation Sans", sans-serif' font-size="17.8" font-weight="normal">5%</text></g>
<g transform="translate(830.64,733.20) scale(1.0000,1)"><text x="0.00 9.90" y="0" font-family='"Liberation Sans", sans-serif' font-size="17.8" font-weight="normal">3%</text></g>
<g transform="translate(868.64,733.20) scale(1.0000,1)"><text x="9.90" y="0" font-family='"Liberation Sans", sans-serif' font-size="17.8" font-weight="normal">%</text><path d="M763,0 L583,0 L583,1102 Q518,1043 465,1013 Q412,983 358,953 Q305,923 223,894 L223,1061 Q371,1128 487,1227 Q604,1325 647,1409 L763,1409 Z" transform="translate(0.00,0) scale(0.00869,-0.00869)" fill="#000"/></g>
<g transform="translate(917.94,733.20) scale(1.0000,1)"><text x="0.00 9.90" y="0" font-family='"Liberation Sans", sans-serif' font-size="17.8" font-weight="normal">5%</text></g>
<g transform="translate(955.64,733.20) scale(1.0000,1)"><text x="0.00 9.90" y="0" font-family='"Liberation Sans", sans-serif' font-size="17.8" font-weight="normal">3%</text></g>
<g transform="translate(992.04,733.20) scale(1.0000,1)"><text x="9.90" y="0" font-family='"Liberation Sans", sans-serif' font-size="17.8" font-weight="normal">%</text><path d="M763,0 L583,0 L583,1102 Q518,1043 465,1013 Q412,983 358,953 Q305,923 223,894 L223,1061 Q371,1128 487,1227 Q604,1325 647,1409 L763,1409 Z" transform="translate(0.00,0) scale(0.00869,-0.00869)" fill="#000"/></g>
<line x1="664.30" y1="742.70" x2="776.80" y2="742.70" stroke="#000" stroke-width="1.5" />
<g transform="translate(694.96,765.80) scale(1.0000,1)"><text x="0.00 10.96 21.91 38.32" y="0" font-family='"Liberation Sans", sans-serif' font-size="19.7" font-weight="normal">60mb</text></g>
<line x1="788.70" y1="742.70" x2="900.90" y2="742.70" stroke="#000" stroke-width="1.5" />
<g transform="translate(820.16,765.80) scale(1.0000,1)"><text x="0.00 10.96 21.91 38.32" y="0" font-family='"Liberation Sans", sans-serif' font-size="19.7" font-weight="normal">30mb</text></g>
<line x1="913.90" y1="742.70" x2="1026.50" y2="742.70" stroke="#000" stroke-width="1.5" />
<g transform="translate(945.56,765.80) scale(1.0000,1)"><text x="10.96 21.91 38.32" y="0" font-family='"Liberation Sans", sans-serif' font-size="19.7" font-weight="normal">0mb</text><path d="M763,0 L583,0 L583,1102 Q518,1043 465,1013 Q412,983 358,953 Q305,923 223,894 L223,1061 Q371,1128 487,1227 Q604,1325 647,1409 L763,1409 Z" transform="translate(0.00,0) scale(0.00962,-0.00962)" fill="#000"/></g>
</svg>
</body></html>
